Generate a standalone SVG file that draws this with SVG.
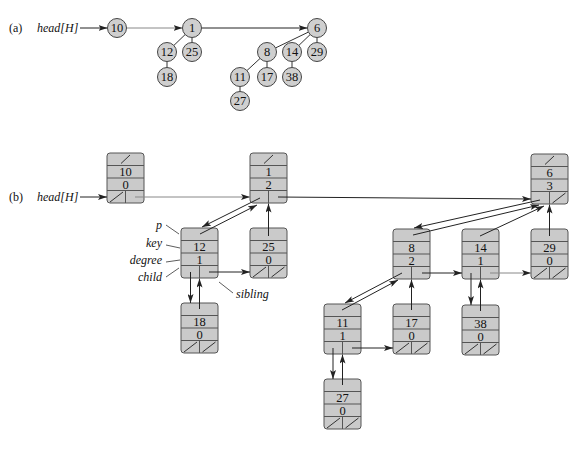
<svg xmlns="http://www.w3.org/2000/svg" width="584" height="450" viewBox="0 0 584 450" font-family="'Liberation Serif', serif">
<defs>
<marker id="ah" viewBox="0 0 9 6" refX="9" refY="3" markerWidth="9" markerHeight="6" markerUnits="userSpaceOnUse" orient="auto">
<path d="M0,0 L9,3 L0,6 L2,3 z" fill="#222"/>
</marker>
<g id="box">
<rect x="0" y="0" width="37" height="50" rx="3" ry="3" fill="#cacaca" stroke="#555" stroke-width="1"/>
<line x1="0" y1="12.5" x2="37" y2="12.5" stroke="#555"/>
<line x1="0" y1="25" x2="37" y2="25" stroke="#555"/>
<line x1="0" y1="37.5" x2="37" y2="37.5" stroke="#555"/>
<line x1="18.5" y1="37.5" x2="18.5" y2="50" stroke="#555"/>
</g>
<line id="pnil" x1="14" y1="10.5" x2="23" y2="2" stroke="#333"/>
<line id="cnil" x1="3" y1="49" x2="16" y2="39" stroke="#333"/>
<line id="snil" x1="21.5" y1="49" x2="34.5" y2="39" stroke="#333"/>
</defs>
<style>
text { font-family: "Liberation Serif", serif; fill: #111; }
.num { font-size: 12.5px; text-anchor: middle; }
.cnum { font-size: 12.5px; text-anchor: middle; }
.it { font-style: italic; font-size: 12px; }
.lab { font-style: italic; font-size: 12px; text-anchor: end; }
.c { fill: #cfcfcf; stroke: #444; stroke-width: 1; }
.e { stroke: #333; stroke-width: 1; fill: none; }
.a { stroke: #222; stroke-width: 1; fill: none; marker-end: url(#ah); }
.g { stroke: #888; stroke-width: 1; fill: none; marker-end: url(#ah); }
.ld { stroke: #333; stroke-width: 0.8; }
</style>
<rect x="0" y="0" width="584" height="450" fill="#fff"/>

<!-- Part (a) -->
<text x="9" y="32" font-size="12">(a)</text>
<text class="it" x="37" y="32">head[H]</text>
<g id="edges-a">
<line class="a" x1="80" y1="28" x2="107.5" y2="28"/>
<line class="g" x1="127" y1="28" x2="182.5" y2="28"/>
<line class="a" x1="202" y1="28" x2="307.5" y2="28"/>
<line class="e" x1="185.1" y1="34.6" x2="173.9" y2="45.4"/>
<line class="e" x1="192" y1="37.5" x2="192" y2="42.5"/>
<line class="e" x1="167" y1="61.5" x2="167" y2="67.5"/>
<line class="e" x1="308.4" y1="32.1" x2="275.6" y2="47.9"/>
<line class="e" x1="310.1" y1="34.6" x2="298.9" y2="45.4"/>
<line class="e" x1="317" y1="37.5" x2="317" y2="42.5"/>
<line class="e" x1="260" y1="58.5" x2="247" y2="70.5"/>
<line class="e" x1="267" y1="61.5" x2="267" y2="67.5"/>
<line class="e" x1="292" y1="61.5" x2="292" y2="67.5"/>
<line class="e" x1="240" y1="86.5" x2="240" y2="91.5"/>
</g>
<g id="a10"><circle class="c" cx="117" cy="28" r="9.5"/><text class="cnum" x="117" y="32">10</text></g>
<g id="a1"><circle class="c" cx="192" cy="28" r="9.5"/><text class="cnum" x="192" y="32">1</text></g>
<g id="a6"><circle class="c" cx="317" cy="28" r="9.5"/><text class="cnum" x="317" y="32">6</text></g>
<g id="a12"><circle class="c" cx="167" cy="52" r="9.5"/><text class="cnum" x="167" y="56">12</text></g>
<g id="a25"><circle class="c" cx="192" cy="52" r="9.5"/><text class="cnum" x="192" y="56">25</text></g>
<g id="a18"><circle class="c" cx="167" cy="77" r="9.5"/><text class="cnum" x="167" y="81">18</text></g>
<g id="a8"><circle class="c" cx="267" cy="52" r="9.5"/><text class="cnum" x="267" y="56">8</text></g>
<g id="a14"><circle class="c" cx="292" cy="52" r="9.5"/><text class="cnum" x="292" y="56">14</text></g>
<g id="a29"><circle class="c" cx="317" cy="52" r="9.5"/><text class="cnum" x="317" y="56">29</text></g>
<g id="a11"><circle class="c" cx="240" cy="77" r="9.5"/><text class="cnum" x="240" y="81">11</text></g>
<g id="a17"><circle class="c" cx="267" cy="77" r="9.5"/><text class="cnum" x="267" y="81">17</text></g>
<g id="a38"><circle class="c" cx="292" cy="77" r="9.5"/><text class="cnum" x="292" y="81">38</text></g>
<g id="a27"><circle class="c" cx="240" cy="101" r="9.5"/><text class="cnum" x="240" y="105">27</text></g>

<!-- Part (b) -->
<text x="9" y="201" font-size="12">(b)</text>
<text class="it" x="37" y="201">head[H]</text>

<g id="b10" transform="translate(107,153)"><use href="#box"/><use href="#pnil"/><use href="#cnil"/><text class="num" x="18.5" y="23">10</text><text class="num" x="18.5" y="35.5">0</text></g>
<g id="b1" transform="translate(250,153)"><use href="#box"/><use href="#pnil"/><text class="num" x="18.5" y="23">1</text><text class="num" x="18.5" y="35.5">2</text></g>
<g id="b6" transform="translate(531,154)"><use href="#box"/><use href="#pnil"/><use href="#snil"/><text class="num" x="18.5" y="23">6</text><text class="num" x="18.5" y="35.5">3</text></g>
<g id="b12" transform="translate(181,228)"><use href="#box"/><text class="num" x="18.5" y="23">12</text><text class="num" x="18.5" y="35.5">1</text></g>
<g id="b25" transform="translate(250,228)"><use href="#box"/><use href="#cnil"/><use href="#snil"/><text class="num" x="18.5" y="23">25</text><text class="num" x="18.5" y="35.5">0</text></g>
<g id="b18" transform="translate(181,303)"><use href="#box"/><use href="#cnil"/><use href="#snil"/><text class="num" x="18.5" y="23">18</text><text class="num" x="18.5" y="35.5">0</text></g>
<g id="b8" transform="translate(393,229)"><use href="#box"/><text class="num" x="18.5" y="23">8</text><text class="num" x="18.5" y="35.5">2</text></g>
<g id="b14" transform="translate(462,229)"><use href="#box"/><text class="num" x="18.5" y="23">14</text><text class="num" x="18.5" y="35.5">1</text></g>
<g id="b29" transform="translate(531,229)"><use href="#box"/><use href="#cnil"/><use href="#snil"/><text class="num" x="18.5" y="23">29</text><text class="num" x="18.5" y="35.5">0</text></g>
<g id="b11" transform="translate(324,304)"><use href="#box"/><text class="num" x="18.5" y="23">11</text><text class="num" x="18.5" y="35.5">1</text></g>
<g id="b17" transform="translate(393,304)"><use href="#box"/><use href="#cnil"/><use href="#snil"/><text class="num" x="18.5" y="23">17</text><text class="num" x="18.5" y="35.5">0</text></g>
<g id="b38" transform="translate(462,305)"><use href="#box"/><use href="#cnil"/><use href="#snil"/><text class="num" x="18.5" y="23">38</text><text class="num" x="18.5" y="35.5">0</text></g>
<g id="b27" transform="translate(324,379)"><use href="#box"/><use href="#cnil"/><use href="#snil"/><text class="num" x="18.5" y="23">27</text><text class="num" x="18.5" y="35.5">0</text></g>

<g id="edges-b">
<line class="a" x1="80" y1="197" x2="107" y2="197"/>
<line class="g" x1="135" y1="197" x2="250" y2="197"/>
<line class="a" x1="278" y1="197" x2="531" y2="199"/>
<line class="a" x1="260" y1="198" x2="202" y2="227"/>
<line class="a" x1="200" y1="234" x2="257" y2="205"/>
<line class="a" x1="268.5" y1="236" x2="268.5" y2="203.5"/>
<line class="a" x1="190.5" y1="272" x2="190.5" y2="303"/>
<line class="a" x1="199.5" y1="309" x2="199.5" y2="278.5"/>
<line class="a" x1="209" y1="272" x2="250" y2="272"/>
<line class="a" x1="540" y1="200" x2="414" y2="228"/>
<line class="a" x1="413" y1="235" x2="539" y2="205"/>
<line class="a" x1="480" y1="236" x2="544" y2="206"/>
<line class="a" x1="549.5" y1="236" x2="549.5" y2="204.5"/>
<line class="a" x1="402" y1="273" x2="345" y2="303"/>
<line class="a" x1="342" y1="310" x2="398" y2="280"/>
<line class="a" x1="422" y1="273" x2="462" y2="273"/>
<line class="a" x1="411.5" y1="310" x2="411.5" y2="279.5"/>
<line class="a" x1="471" y1="273" x2="471" y2="305"/>
<line class="a" x1="480.5" y1="311" x2="480.5" y2="279.5"/>
<line class="g" x1="490" y1="273" x2="531" y2="273"/>
<line class="a" x1="333" y1="348" x2="333" y2="379"/>
<line class="a" x1="342.5" y1="385" x2="342.5" y2="354.5"/>
<line class="a" x1="352" y1="348" x2="393" y2="348"/>
</g>

<g id="field-labels">
<text class="lab" x="162" y="229">p</text>
<line class="ld" x1="166" y1="225" x2="179" y2="234"/>
<text class="lab" x="162" y="247">key</text>
<line class="ld" x1="166" y1="245" x2="180" y2="248"/>
<text class="lab" x="162" y="264">degree</text>
<line class="ld" x1="166" y1="262" x2="180" y2="260"/>
<text class="lab" x="162" y="281">child</text>
<line class="ld" x1="166" y1="277" x2="179" y2="268"/>
<text class="it" x="236" y="298">sibling</text>
<line class="ld" x1="219" y1="282" x2="233" y2="293"/>
</g>
</svg>
